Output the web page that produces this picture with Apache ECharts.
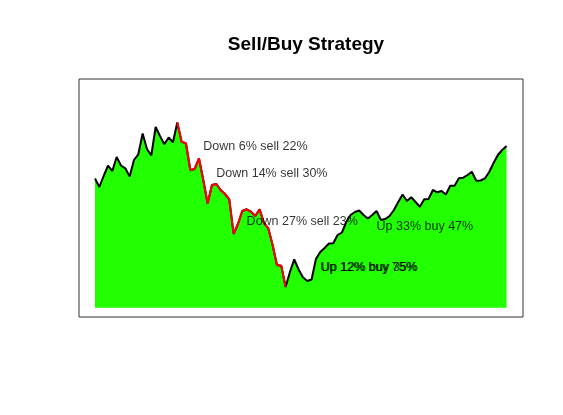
<!DOCTYPE html>
<html>
<head>
<meta charset="utf-8">
<script src="https://cdn.jsdelivr.net/npm/echarts@6/dist/echarts.min.js"></script>
<style>html,body{margin:0;padding:0;background:#fff;}#c{width:563px;height:415px;}</style>
</head>
<body>
<div id="c"></div>
<script>
// Price series (one value per period)
const periods = Array.from({length: 96}, (_, i) => i);
const prices = [
  138.5, 130, 141, 151.3, 146, 160, 151.5, 148.7, 140.5, 157,
  162.7, 183.5, 168, 161.5, 190, 181, 172.7, 179.5, 174.8, 194.5,
  175.3, 173.5, 147, 148, 158.7, 137, 113.5, 132, 133, 127,
  123, 117.7, 83, 93, 106, 107.7, 105.3, 101, 107.7, 94,
  88.7, 72, 52, 51.3, 30, 45, 57.7, 47.5, 39.7, 36,
  37.5, 58, 65, 69, 73.5, 73.7, 82, 84.5, 95, 102,
  105, 106.5, 102, 98.5, 102, 106, 97, 98, 101, 107,
  115, 122.5, 116, 119.7, 115, 110.3, 117.7, 118, 127, 124.7,
  126, 122.5, 131.3, 131.3, 138.7, 139.3, 142, 145.3, 136.2, 136.5,
  138.5, 145, 154, 162, 167, 171
];
// Sell phase: from peak to trough
const sellStart = 19;
const sellEnd = 44;
const baseline = 9.3;
// Annotations
const noteTexts = ["Down 6% sell 22%", "Down 14% sell 30%", "Down 27% sell 23%", "Up 12% buy 75%", "Up 12% buy 35%", "Up 33% buy 47%"];
const noteX = [25, 28, 35, 52, 52.25, 65];
const noteY = [170.5, 143, 95.5, 49.5, 49.5, 90.5];

const allData = periods.map((p, i) => [p, prices[i]]);
const sellData = periods.map((p, i) => [p, (i >= sellStart && i <= sellEnd) ? prices[i] : null]);
const noteData = noteTexts.map((t, i) => ({value: [noteX[i], noteY[i]], name: t}));

const chart = echarts.init(document.getElementById('c'), null, {renderer: 'canvas'});
chart.setOption({
  animation: false,
  backgroundColor: '#ffffff',
  title: {
    text: 'Sell/Buy Strategy',
    left: 301,
    top: 30,
    textAlign: 'center',
    textStyle: {fontFamily: 'Liberation Sans', fontWeight: 'bold', fontSize: 19, color: '#000'}
  },
  grid: {
    left: 79, top: 79, width: 444, height: 238,
    show: true, borderColor: '#333', borderWidth: 1, backgroundColor: 'transparent'
  },
  xAxis: {type: 'value', min: -3.69, max: 98.8, show: false},
  yAxis: {type: 'value', min: 0, max: 238, show: false},
  series: [
    {
      type: 'line', data: allData, showSymbol: false, symbol: 'none',
      lineStyle: {color: '#000', width: 2},
      areaStyle: {color: '#22ff00', opacity: 1, origin: baseline},
      z: 2
    },
    {
      type: 'line', data: sellData, showSymbol: false, symbol: 'none', connectNulls: false,
      lineStyle: {color: '#ff0000', width: 2},
      z: 3
    },
    {
      type: 'scatter', data: noteData, symbolSize: 0, z: 4,
      label: {
        show: true, position: 'right', distance: 0,
        formatter: p => p.name,
        fontFamily: 'Liberation Sans', fontSize: 12.5, color: '#000'
      }
    }
  ]
});
</script>
</body>
</html>
